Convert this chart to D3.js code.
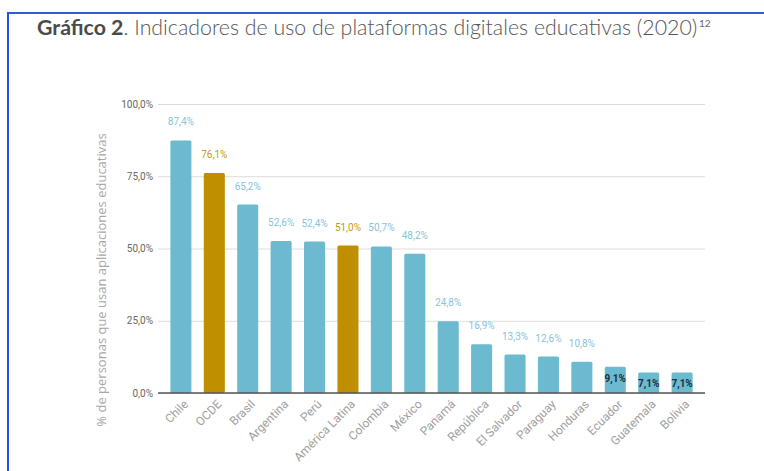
<!DOCTYPE html>
<html>
<head>
<meta charset="utf-8">
<script src="https://cdn.jsdelivr.net/npm/d3@7"></script>
<style>
  body { margin: 0; background: #fff; }
  svg { display: block; }
</style>
</head>
<body>
<div id="chart"></div>
<script>
// data
var paises = ["Chile", "OCDE", "Brasil", "Argentina", "Perú", "América Latina", "Colombia", "México",
	"Panamá", "República", "El Salvador", "Paraguay", "Honduras", "Ecuador", "Guatemala", "Bolivia"]
var valores = [87.4, 76.1, 65.2, 52.6, 52.4, 51.0, 50.7, 48.2, 24.8, 16.9, 13.3, 12.6, 10.8, 9.1, 7.1, 7.1]
var referencias = ["OCDE", "América Latina"]
var ticksY = [0, 25, 50, 75, 100]

const width = 764
const height = 471

// chart area
const padding = { top: 104, bottom: 78, left: 158, right: 59 }

const azul = "#6bbad0"
const oro = "#bf8f00"

const es = d3.formatLocale({ decimal: ",", thousands: ".", grouping: [3], currency: ["", "€"] })
const fmt = es.format(".1f")

var data = paises.map(function(p, i){ return { pais: p, v: valores[i], ref: referencias.indexOf(p) >= 0 } })

const svg = d3.select("#chart").append("svg")
	.attr("width", width)
	.attr("height", height)

// blue frame (top and left)
svg.append("line").attr("x1", 8).attr("x2", width).attr("y1", 13).attr("y2", 13)
	.attr("stroke", "#2a5fd6").attr("stroke-width", 2)
svg.append("line").attr("x1", 8).attr("x2", 8).attr("y1", 12).attr("y2", height)
	.attr("stroke", "#1f55e0").attr("stroke-width", 2)

// title
var title = svg.append("text")
	.attr("x", 37).attr("y", 35)
	.style("font-family", "Lato, 'Open Sans', sans-serif")
	.style("font-size", "20px")
	.style("fill", "#555")
title.append("tspan").style("font-weight", 700).style("fill", "#4a4a4a").text("Gráfico 2")
title.append("tspan").style("font-weight", 300).text(". Indicadores de uso de plataformas digitales educativas (2020)")
// squeeze to the width seen in the picture
var tw = title.node().getComputedTextLength()
title.style("font-size", (20 * 661 / tw) + "px")
svg.append("text")
	.attr("x", 699).attr("y", 27)
	.style("font-family", "Lato, sans-serif")
	.style("font-size", "10px")
	.style("fill", "#666")
	.text("12")

const xScale = d3.scaleBand()
	.domain(paises)
	.range([padding.left, width - padding.right])
	.paddingInner(0.37).paddingOuter(0.37)

const yScale = d3.scaleLinear()
	.domain([0, 100])
	.range([height - padding.bottom, padding.top])

// gridlines
var yAxis = d3.axisLeft(yScale)
	.tickValues(ticksY)
	.tickSize(-(width - padding.right - padding.left))
	.tickPadding(6)
	.tickFormat(function(d){ return fmt(d) + "%" })

var gy = svg.append("g")
	.attr("transform", "translate(" + padding.left + ",0)")
	.call(yAxis)
gy.select(".domain").remove()
gy.selectAll(".tick line").attr("stroke", "#dcdcdc").attr("stroke-width", 1)
gy.selectAll(".tick text")
	.attr("x", -5)
	.style("font-family", "Roboto, sans-serif")
	.style("font-size", "10px")
	.style("fill", "#666")

// bars
svg.append("g").selectAll("rect")
	.data(data)
	.enter()
	.append("rect")
	.attr("x", d => xScale(d.pais))
	.attr("y", d => yScale(d.v))
	.attr("width", xScale.bandwidth())
	.attr("height", d => yScale(0) - yScale(d.v))
	.attr("rx", 1.5)
	.style("fill", d => d.ref ? oro : azul)

// baseline
svg.append("line")
	.attr("x1", padding.left).attr("x2", width - padding.right)
	.attr("y1", yScale(0)).attr("y2", yScale(0))
	.attr("stroke", "#555").attr("stroke-width", 1.3)

// value labels
svg.append("g").selectAll("text")
	.data(data)
	.enter()
	.append("text")
	.attr("x", d => xScale(d.pais) + xScale.bandwidth() / 2)
	.attr("y", function(d){ return d.v < 10 ? yScale(d.v) + 15 : yScale(d.v) - 15 })
	.attr("text-anchor", "middle")
	.style("font-family", "Roboto, sans-serif")
	.style("font-size", "10px")
	.style("font-weight", d => d.v < 10 ? 700 : 400)
	.style("fill", function(d){ return d.v < 10 ? "#1d2f3c" : (d.ref ? "#c49a0a" : "#86c4da") })
	.text(d => fmt(d.v) + "%")

// category labels, rotated
svg.append("g").selectAll("text")
	.data(data)
	.enter()
	.append("text")
	.attr("transform", function(d){
		var x = xScale(d.pais) + xScale.bandwidth() / 2 + 8
		return "translate(" + x + "," + (yScale(0) + 12) + ") rotate(-45)"
	})
	.attr("text-anchor", "end")
	.style("font-family", "Roboto, sans-serif")
	.style("font-size", "12px")
	.style("fill", "#a0a0a0")
	.text(d => d.pais)

// y axis title
svg.append("text")
	.attr("transform", "translate(106," + 280 + ") rotate(-90)")
	.attr("text-anchor", "middle")
	.style("font-family", "'Open Sans', sans-serif")
	.style("font-size", "13px")
	.style("fill", "#a8a8a8")
	.text("% de personas que usan aplicaciones educativas")
</script>
</body>
</html>
